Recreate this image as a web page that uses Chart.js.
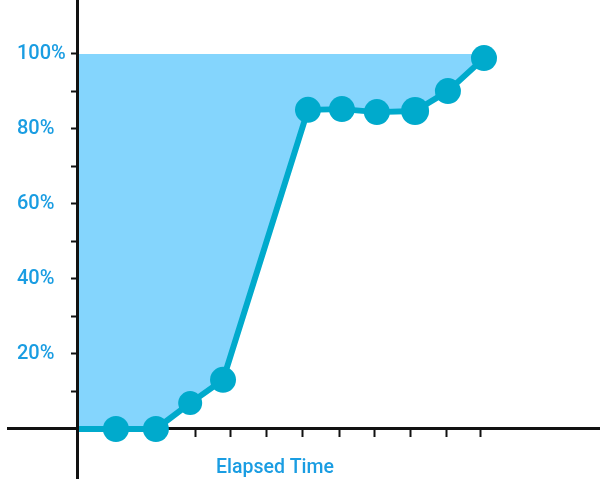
<!DOCTYPE html>
<html>
<head>
<meta charset="utf-8">
<script src="https://cdn.jsdelivr.net/npm/chart.js@4/dist/chart.umd.min.js"></script>
<style>
  html, body { margin: 0; padding: 0; background: #ffffff; }
  canvas { display: block; }
</style>
</head>
<body>
<canvas id="chart" width="600" height="500"></canvas>
<script>
// ---- data ----
const elapsed      = [0, 1.09, 2.21, 3.17, 4.09, 6.47, 7.42, 8.40, 9.47, 10.39, 11.40];
const progress     = [0, 0, 0, 6.9, 13.1, 85.1, 85.3, 84.5, 84.8, 90.1, 98.9];
const markerRadius = [0, 13, 13, 12, 13, 13, 13, 13, 14, 13, 13];
const xTickValues  = [1.29, 2.30, 3.31, 4.31, 5.32, 6.33, 7.34, 8.32, 9.33, 10.34, 11.29];
const yTickValues  = [10, 20, 30, 40, 50, 60, 70, 80, 90, 100];
const yLabelValues = [20, 40, 60, 80, 100];
const xTitle = 'Elapsed Time';

// ---- style ----
const LINE = '#00aacc';
const FILL = '#84d5fd';
const TEXT = '#1a9de2';
const AXIS = '#111111';
const X_MIN = -1.933, X_MAX = 14.65;
const Y_MIN = -13.067, Y_MAX = 114.4;

const noSpace = s => { if (s.isHorizontal()) { s.height = 0; } else { s.width = 0; } s.paddingTop = 0; s.paddingBottom = 0; s.paddingLeft = 0; s.paddingRight = 0; };

new Chart(document.getElementById('chart'), {
  type: 'line',
  data: {
    datasets: [{
      data: elapsed.map((x, i) => ({ x: x, y: progress[i] })),
      borderColor: LINE,
      borderWidth: 6,
      borderCapStyle: 'butt',
      borderJoinStyle: 'round',
      backgroundColor: FILL,
      fill: { value: 100 },
      tension: 0,
      pointRadius: markerRadius,
      pointHoverRadius: markerRadius,
      pointBackgroundColor: LINE,
      pointBorderWidth: 0,
      xAxisID: 'x',
      yAxisID: 'y'
    }]
  },
  options: {
    responsive: false,
    animation: false,
    devicePixelRatio: 1,
    layout: { autoPadding: false, padding: { left: 8, right: 0, top: 0, bottom: 22 } },
    plugins: { legend: { display: false }, tooltip: { enabled: false } },
    scales: {
      x: {
        axis: 'x', type: 'linear', position: { y: 0 },
        min: X_MIN, max: X_MAX,
        afterBuildTicks: s => { s.ticks = xTickValues.map(v => ({ value: v })); },
        afterFit: noSpace,
        ticks: { display: false },
        grid: { drawOnChartArea: false, drawTicks: true, tickLength: 7, tickWidth: 2, tickColor: AXIS },
        border: { display: true, color: AXIS, width: 3, z: 0 }
      },
      y: {
        axis: 'y', type: 'linear', position: { x: 0 },
        min: Y_MIN, max: Y_MAX,
        afterBuildTicks: s => { s.ticks = yTickValues.map(v => ({ value: v })); },
        afterFit: noSpace,
        ticks: { display: false },
        grid: { drawOnChartArea: false, drawTicks: true, tickLength: 5, tickWidth: 2, tickColor: AXIS },
        border: { display: true, color: AXIS, width: 3, z: 1 }
      },
      yl: {
        axis: 'y', type: 'linear', position: 'left',
        min: Y_MIN, max: Y_MAX,
        afterBuildTicks: s => { s.ticks = yLabelValues.map(v => ({ value: v })); },
        afterFit: noSpace,
        ticks: {
          display: true, mirror: true, padding: 9, crossAlign: 'near',
          color: TEXT, font: { family: 'Roboto', size: 20, weight: '500' },
          callback: v => v + '%'
        },
        grid: { display: false },
        border: { display: false }
      },
      xl: {
        axis: 'x', type: 'linear', position: 'bottom',
        stack: 'bottomTitle', stackWeight: 0.902,
        afterFit: noSpace,
        ticks: { display: false },
        grid: { display: false },
        border: { display: false },
        title: {
          display: true, text: xTitle, color: TEXT, align: 'center',
          font: { family: 'Roboto', size: 19.5, weight: '500', lineHeight: 1 },
          padding: { top: 0, bottom: 0 }
        }
      },
      xd: {
        axis: 'x', type: 'linear', position: 'bottom',
        stack: 'bottomTitle', stackWeight: 0.098,
        afterFit: noSpace,
        ticks: { display: false },
        grid: { display: false },
        border: { display: false }
      }
    }
  }
});
</script>
</body>
</html>
